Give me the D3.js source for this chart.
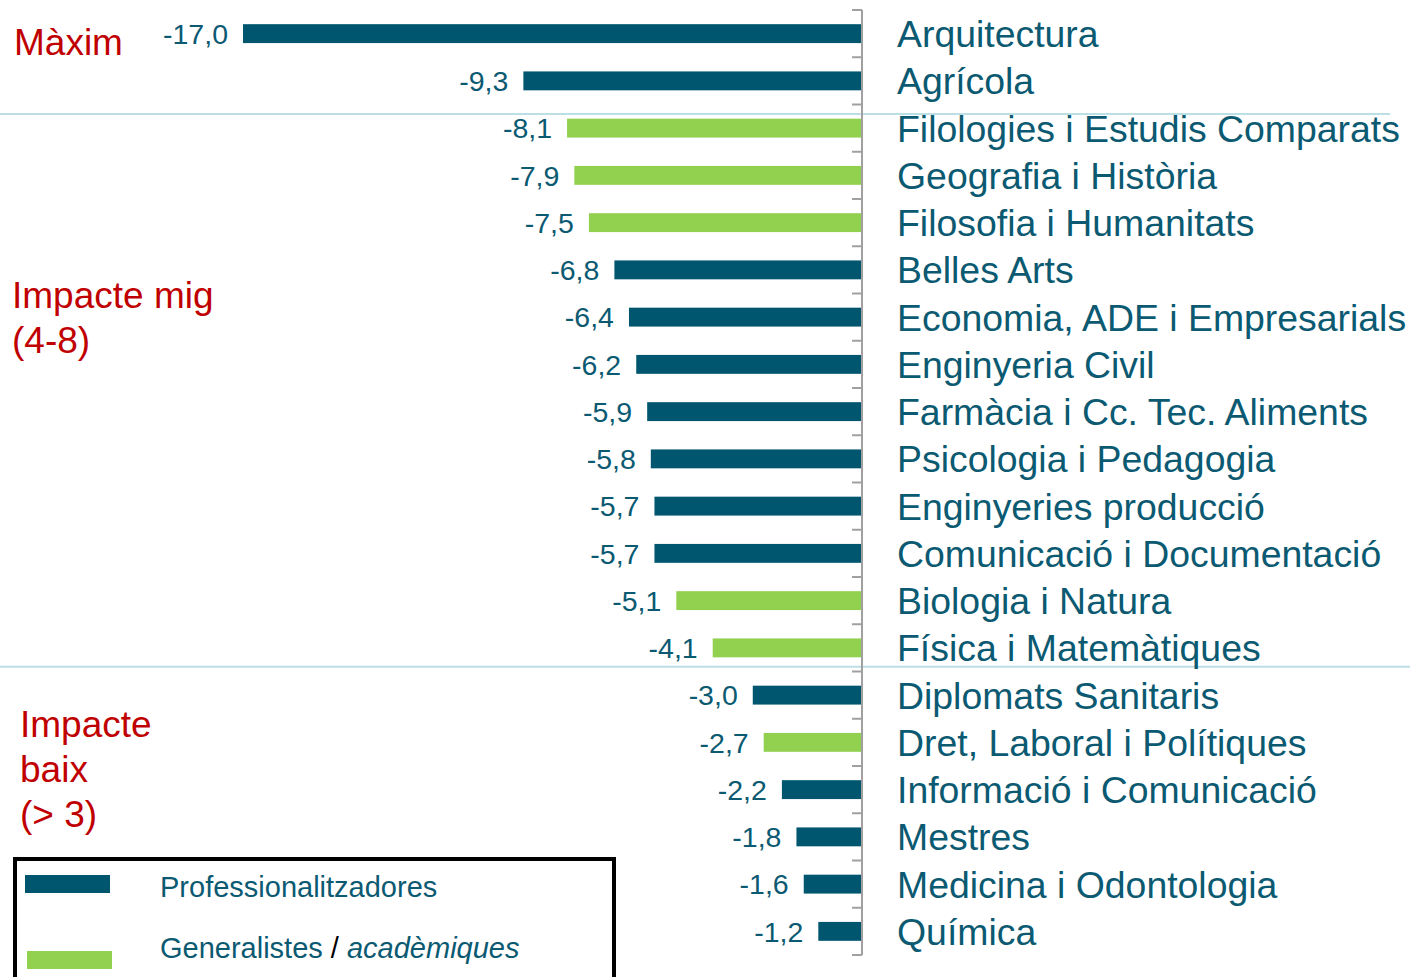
<!DOCTYPE html>
<html>
<head>
<meta charset="utf-8">
<script src="https://cdn.jsdelivr.net/npm/d3@7"></script>
<style>
  body { margin: 0; background: #fff; }
  svg { display: block; font-family: "Liberation Sans", Arial, sans-serif; }
</style>
</head>
<body>
<div id="chart"></div>
<script>
// categories, top to bottom
var categories = [
    "Arquitectura", "Agrícola", "Filologies i Estudis Comparats", "Geografia i Història",
    "Filosofia i Humanitats", "Belles Arts", "Economia, ADE i Empresarials", "Enginyeria Civil",
    "Farmàcia i Cc. Tec. Aliments", "Psicologia i Pedagogia", "Enginyeries producció",
    "Comunicació i Documentació", "Biologia i Natura", "Física i Matemàtiques",
    "Diplomats Sanitaris", "Dret, Laboral i Polítiques", "Informació i Comunicació",
    "Mestres", "Medicina i Odontologia", "Química"
];
var values = [-17.0, -9.3, -8.1, -7.9, -7.5, -6.8, -6.4, -6.2, -5.9, -5.8, -5.7, -5.7,
    -5.1, -4.1, -3.0, -2.7, -2.2, -1.8, -1.6, -1.2];
// P = professionalitzadores, G = generalistes / acadèmiques
var types = ["P", "P", "G", "G", "G", "P", "P", "P", "P", "P", "P", "P",
    "G", "G", "P", "G", "P", "P", "P", "P"];
var groupLabels = [
    { lines: ["Màxim"], x: 14, y: 55 },
    { lines: ["Impacte mig", "(4-8)"], x: 12, y: 308 },
    { lines: ["Impacte", "baix", "(> 3)"], x: 20, y: 737 }
];

var width = 1410, height = 977;
var dark = "#00566f", green = "#92d050", textColor = "#0b5a72", red = "#c00000";

var svg = d3.select("#chart").append("svg")
    .attr("width", width)
    .attr("height", height);

var x = d3.scaleLinear().domain([-17, 0]).range([243, 862]);
var y = d3.scaleBand().domain(categories).range([10, 955]).paddingInner(0.6).paddingOuter(0.3);

// separator lines between groups
var step = y.step();
svg.append("line")
    .attr("x1", 0).attr("x2", 1390)
    .attr("y1", y(categories[2]) - step * 0.1).attr("y2", y(categories[2]) - step * 0.1)
    .style("stroke", "#bcdfe6").style("stroke-width", 2);
svg.append("line")
    .attr("x1", 0).attr("x2", width)
    .attr("y1", y(categories[14]) - step * 0.4).attr("y2", y(categories[14]) - step * 0.4)
    .style("stroke", "#bcdfe6").style("stroke-width", 2);

// bars
svg.selectAll(".bar")
    .data(values)
    .enter().append("rect")
    .attr("class", "bar")
    .attr("x", d => x(d))
    .attr("y", (d, i) => y(categories[i]))
    .attr("width", d => x(0) - x(d))
    .attr("height", y.bandwidth())
    .style("fill", (d, i) => types[i] === "P" ? dark : green);

// axis with ticks on category boundaries
var axis = svg.append("g").attr("class", "axis");
axis.append("line")
    .attr("x1", x(0)).attr("x2", x(0))
    .attr("y1", 10).attr("y2", 955)
    .style("stroke", "#a0a0a0").style("stroke-width", 2);
axis.selectAll(".tick")
    .data(d3.range(categories.length + 1))
    .enter().append("line")
    .attr("x1", x(0) - 10).attr("x2", x(0))
    .attr("y1", i => 10 + i * step).attr("y2", i => 10 + i * step)
    .style("stroke", "#a0a0a0").style("stroke-width", 2);

// value labels
svg.selectAll(".val")
    .data(values)
    .enter().append("text")
    .attr("class", "val")
    .attr("x", d => x(d) - 15)
    .attr("y", (d, i) => y(categories[i]) + y.bandwidth() / 2)
    .attr("dy", "0.36em")
    .attr("text-anchor", "end")
    .style("font-size", "28.5px")
    .style("fill", textColor)
    .text(d => d3.format(".1f")(d).replace("−", "-").replace(".", ","));

// category labels
svg.selectAll(".cat")
    .data(categories)
    .enter().append("text")
    .attr("class", "cat")
    .attr("x", 897)
    .attr("y", d => y(d) + y.bandwidth() / 2)
    .attr("dy", "0.36em")
    .style("font-size", "37.4px")
    .style("fill", textColor)
    .text(d => d);

// group labels in red
groupLabels.forEach(function (g) {
    var t = svg.append("text")
        .style("font-size", "37px")
        .style("fill", red);
    g.lines.forEach(function (l, i) {
        t.append("tspan").attr("x", g.x).attr("y", g.y + i * 45).text(l);
    });
});

// legend
var legend = svg.append("g").attr("class", "legend");
legend.append("rect")
    .attr("x", 15).attr("y", 859)
    .attr("width", 599).attr("height", 140)
    .style("fill", "none").style("stroke", "#000").style("stroke-width", 4);
legend.append("rect")
    .attr("x", 25).attr("y", 875).attr("width", 85).attr("height", 18)
    .style("fill", dark);
legend.append("rect")
    .attr("x", 27).attr("y", 951).attr("width", 85).attr("height", 18)
    .style("fill", green);
legend.append("text")
    .attr("x", 160).attr("y", 897)
    .style("font-size", "29px").style("fill", textColor)
    .text("Professionalitzadores");
var lt = legend.append("text")
    .attr("x", 160).attr("y", 958)
    .style("font-size", "29px").style("fill", textColor);
lt.append("tspan").text("Generalistes ");
lt.append("tspan").style("fill", "#000").text("/ ");
lt.append("tspan").style("font-style", "italic").text("acadèmiques");
</script>
</body>
</html>
